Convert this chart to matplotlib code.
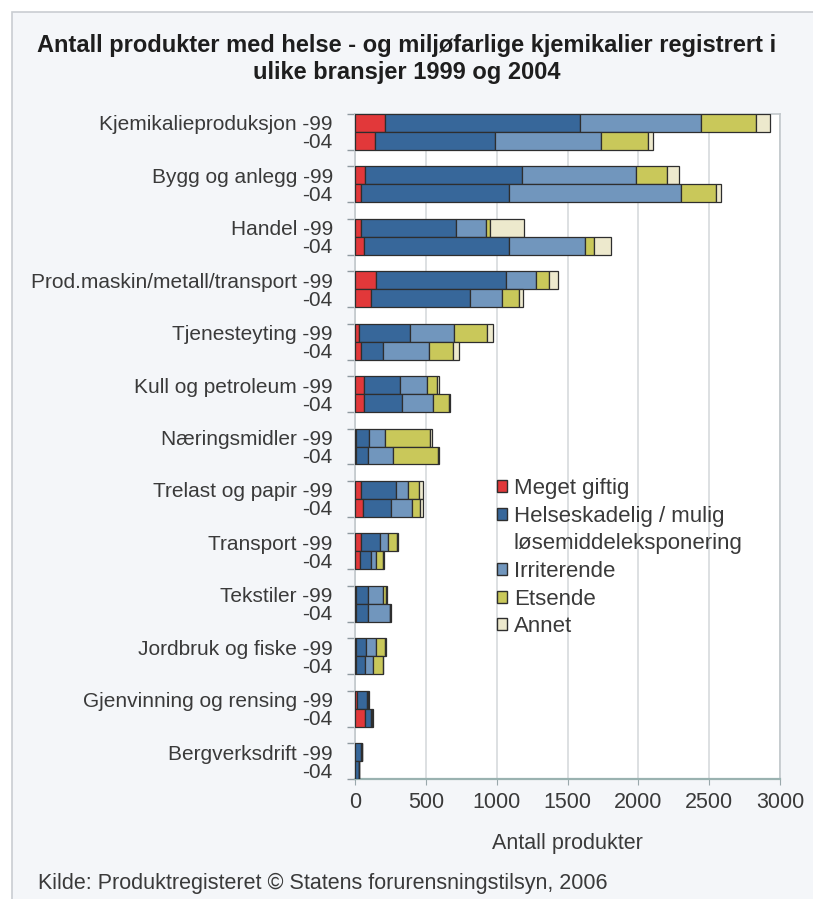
import matplotlib
matplotlib.use("Agg")
import matplotlib.pyplot as plt
from matplotlib.patches import Patch, Rectangle
import numpy as np

plt.rcParams['font.family'] = ['Liberation Sans', 'DejaVu Sans']

categories = ["Kjemikalieproduksjon", "Bygg og anlegg", "Handel",
              "Prod.maskin/metall/transport", "Tjenesteyting", "Kull og petroleum",
              "Næringsmidler", "Trelast og papir", "Transport", "Tekstiler",
              "Jordbruk og fiske", "Gjenvinning og rensing", "Bergverksdrift"]
years = ["-99", "-04"]
series_names = ["Meget giftig", "Helseskadelig / mulig", "Irriterende", "Etsende", "Annet"]

meget_99 = [210, 70, 45, 150, 25, 65, 10, 45, 45, 5, 5, 15, 3]
helse_99 = [1375, 1110, 670, 915, 365, 255, 90, 245, 130, 90, 75, 70, 40]
irr_99 = [860, 805, 210, 210, 310, 185, 110, 85, 60, 105, 65, 5, 3]
ets_99 = [385, 215, 25, 95, 235, 75, 320, 75, 60, 20, 70, 5, 2]
annet_99 = [100, 90, 245, 60, 40, 15, 15, 30, 10, 5, 5, 5, 2]

meget_04 = [140, 45, 60, 115, 40, 60, 10, 55, 35, 5, 5, 70, 2]
helse_04 = [850, 1045, 1030, 695, 160, 275, 85, 200, 80, 90, 65, 45, 25]
irr_04 = [745, 1210, 530, 225, 320, 215, 175, 145, 35, 150, 55, 3, 1]
ets_04 = [335, 245, 65, 125, 175, 110, 315, 60, 45, 5, 70, 3, 1]
annet_04 = [30, 40, 120, 25, 40, 10, 10, 20, 10, 5, 5, 3, 1]

colors = ["#e2383a", "#37679a", "#7196bd", "#c9c85a", "#ede9cd"]
edge = "#2e2e2e"
txt = "#3a3a3a"

W, H = 813, 899
fig = plt.figure(figsize=(W / 100, H / 100), dpi=100, facecolor="white")
# background panel
fig.patches.append(Rectangle((12 / W, -0.01), 1.02, 1 - 12 / H + 0.01,
                             transform=fig.transFigure, facecolor="#f4f6f9",
                             edgecolor="#c9cdd2", linewidth=1.2, zorder=-10))

left, right, top, bottom = 355, 780, 114, 779
ax = fig.add_axes([left / W, 1 - bottom / H, (right - left) / W, (bottom - top) / H])
ax.set_facecolor("white")

n = len(categories)
h = 0.343
g = np.arange(n)
y99 = g - h / 2
y04 = g + h / 2

data99 = [meget_99, helse_99, irr_99, ets_99, annet_99]
data04 = [meget_04, helse_04, irr_04, ets_04, annet_04]

for ypos, data in ((y99, data99), (y04, data04)):
    base = np.zeros(n)
    for vals, c in zip(data, colors):
        vals = np.array(vals, dtype=float)
        ax.barh(ypos, vals, left=base, height=h, color=c, edgecolor=edge,
                linewidth=0.9, zorder=3)
        base += vals

ax.set_xlim(0, 3000)
ax.set_ylim(n - 1 + h, -h)
ax.set_xticks(np.arange(0, 3001, 500))
ax.tick_params(axis="x", labelsize=15.5, labelcolor=txt, color="#9aa8ac",
               length=4, pad=5)

yticks = []
ylabels = []
for i, c in enumerate(categories):
    yticks += [y99[i], y04[i]]
    ylabels += [c + " " + years[0], years[1]]
ax.set_yticks(yticks)
ax.set_yticklabels(ylabels)
ax.tick_params(axis="y", length=0, labelsize=15, labelcolor=txt, pad=16)
ax.set_yticks(np.concatenate([g - h, g + h]), minor=True)
ax.tick_params(axis="y", which="minor", length=6, color="#8f9aa0", width=1)

ax.grid(axis="x", color="#d3d7da", linewidth=1.1, zorder=0)
for s in ["top", "right", "left"]:
    ax.spines[s].set_color("#c2c8cc")
    ax.spines[s].set_linewidth(1.2)
ax.spines["bottom"].set_color("#9ab2b0")
ax.spines["bottom"].set_linewidth(1.6)

handles = [Patch(facecolor=colors[0], edgecolor=edge),
           Patch(facecolor=colors[1], edgecolor=edge),
           Patch(facecolor="none", edgecolor="none"),
           Patch(facecolor=colors[2], edgecolor=edge),
           Patch(facecolor=colors[3], edgecolor=edge),
           Patch(facecolor=colors[4], edgecolor=edge)]
labels = [series_names[0], series_names[1], "løsemiddeleksponering",
          series_names[2], series_names[3], series_names[4]]
leg = ax.legend(handles, labels, loc="upper left",
                bbox_to_anchor=((497 - left) / (right - left), (bottom - 478) / (bottom - top)),
                frameon=False, fontsize=16, handlelength=0.45, handleheight=0.45,
                handletextpad=0.3, labelspacing=0.3, borderpad=0, borderaxespad=0)
for t in leg.get_texts():
    t.set_color(txt)

fig.text(0.5, 1 - 59 / H, "Antall produkter med helse - og miljøfarlige kjemikalier registrert i\nulike bransjer 1999 og 2004",
         ha="center", va="center", fontsize=17, fontweight="bold", color="#1e1e1e",
         linespacing=1.2)
fig.text((left + right) / 2 / W, 1 - 843 / H, "Antall produkter", ha="center", va="center",
         fontsize=15.5, color=txt)
fig.text(38 / W, 1 - 883 / H, "Kilde: Produktregisteret © Statens forurensningstilsyn, 2006",
         ha="left", va="center", fontsize=15.5, color=txt)

fig.savefig("out.png", dpi=100, facecolor="white")
